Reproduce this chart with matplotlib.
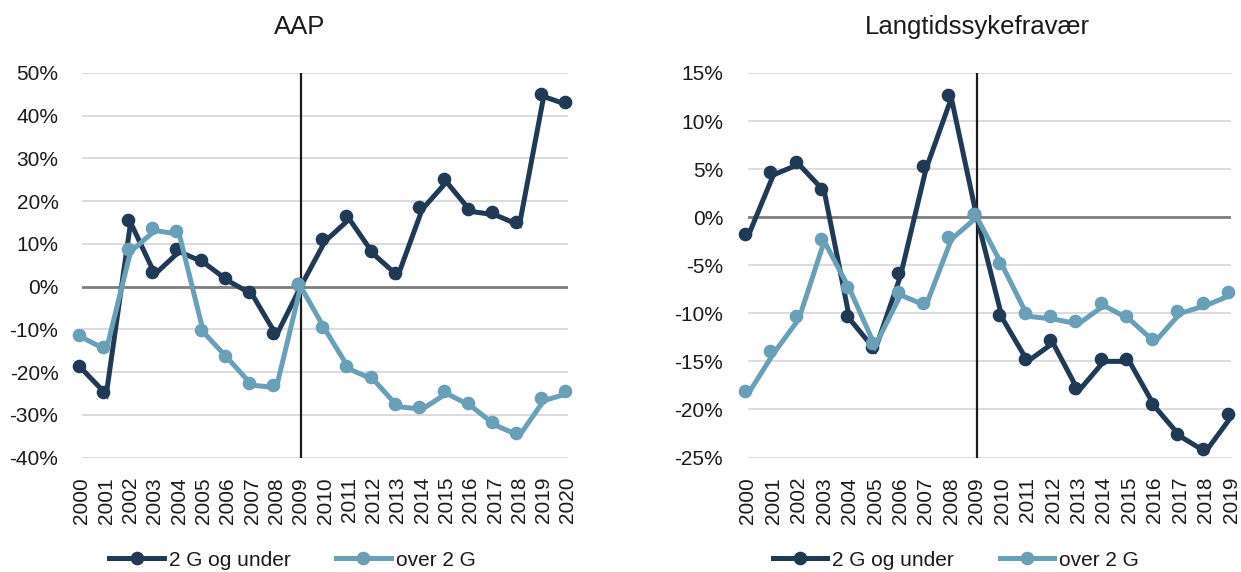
import matplotlib
matplotlib.use("Agg")
import matplotlib.pyplot as plt
import matplotlib.transforms as mtransforms
from matplotlib.lines import Line2D
from matplotlib.ticker import FuncFormatter, FixedLocator

plt.rcParams['font.family'] = ['Liberation Sans', 'DejaVu Sans']

# ---- data ----
years_aap = [str(y) for y in range(2000, 2021)]
aap_low = [-19.3, -25.2, 15.0, 2.9, 8.2, 5.7, 1.4, -1.8, -11.4, 0.0,
           10.6, 15.8, 7.6, 2.5, 18.1, 24.5, 17.6, 16.8, 14.4, 44.5, 42.5]
aap_high = [-11.9, -14.8, 8.2, 13.1, 12.3, -10.7, -16.8, -23.1, -23.6, 0.0,
            -10.0, -19.3, -21.8, -28.1, -28.7, -25.0, -27.9, -32.4, -34.9, -26.7, -25.0]

years_syk = [str(y) for y in range(2000, 2020)]
syk_low = [-2.0, 4.4, 5.5, 2.7, -10.6, -13.8, -6.1, 5.0, 12.4, 0.0,
           -10.5, -15.0, -13.1, -18.1, -15.0, -15.0, -19.7, -22.8, -24.4, -20.8]
syk_high = [-18.4, -14.2, -10.6, -2.5, -7.5, -13.4, -8.1, -9.2, -2.3, 0.0,
            -5.0, -10.3, -10.6, -11.1, -9.2, -10.6, -13.0, -10.0, -9.2, -8.1]

series_names = ["2 G og under", "over 2 G"]
titles = ["AAP", "Langtidssykefravær"]
ref_year = "2009"

DARK = "#203a55"
LIGHT = "#6a9fb8"
W, H = 1241, 572
fig = plt.figure(figsize=(W / 100, H / 100), dpi=100)


def px_axes(x0, x1, y0, y1):
    return fig.add_axes([x0 / W, 1 - y1 / H, (x1 - x0) / W, (y1 - y0) / H])


def draw(ax, years, low, high, yticks, ypad):
    x = list(range(len(years)))
    off = mtransforms.offset_copy(ax.transData, fig=fig, x=-3.0, y=2.7, units='dots')
    for vals, col, z in [(low, DARK, 3), (high, LIGHT, 4)]:
        ax.plot(x, vals, color=col, lw=3.6, zorder=z, clip_on=False,
                solid_joinstyle='miter', solid_capstyle='butt')
        ax.plot(x, vals, ls='none', marker='o', ms=8.8, color=col, zorder=z,
                transform=off, clip_on=False)
    ax.set_xlim(0, len(years) - 1)
    ax.set_ylim(yticks[0], yticks[-1])
    ax.yaxis.set_major_locator(FixedLocator(yticks))
    ax.yaxis.set_major_formatter(FuncFormatter(lambda v, p: f"{v:.0f}%"))
    ax.set_xticks(x)
    ax.set_xticklabels(years, rotation=90)
    for s in ax.spines.values():
        s.set_visible(False)
    ax.grid(axis='y', color='#d9d9d9', lw=1.3, zorder=0)
    ax.set_axisbelow(True)
    ax.axhline(0, color='#7f7f7f', lw=2.0, zorder=1)
    ax.axvline(years.index(ref_year), color='#1a1a1a', lw=1.6, zorder=2)
    ax.tick_params(axis='both', length=0, labelsize=15, colors='#1a1a1a')
    ax.tick_params(axis='x', pad=14)
    ax.tick_params(axis='y', pad=ypad)


ax1 = px_axes(82, 568, 73, 457.5)
draw(ax1, years_aap, aap_low, aap_high, [-40, -30, -20, -10, 0, 10, 20, 30, 40, 50], 17)
ax2 = px_axes(748, 1231, 73, 457.5)
draw(ax2, years_syk, syk_low, syk_high, [-25, -20, -15, -10, -5, 0, 5, 10, 15], 18)

fig.text(300 / W, 1 - 27 / H, titles[0], ha='center', va='center', fontsize=18.5, color='#1a1a1a')
fig.text(977 / W, 1 - 27 / H, titles[1], ha='center', va='center', fontsize=18.5, color='#1a1a1a')

handles = [Line2D([], [], color=DARK, lw=3.6, marker='o', ms=8.8),
           Line2D([], [], color=LIGHT, lw=3.6, marker='o', ms=8.8)]
for cx in (292.5, 956):
    fig.legend(handles, series_names, loc='center', bbox_to_anchor=(cx / W, 1 - 560 / H),
               ncol=2, frameon=False, fontsize=15, handlelength=2.6, handletextpad=0.25,
               columnspacing=2.2, borderpad=0, labelcolor='#1a1a1a')

fig.savefig("out.png", dpi=100)
